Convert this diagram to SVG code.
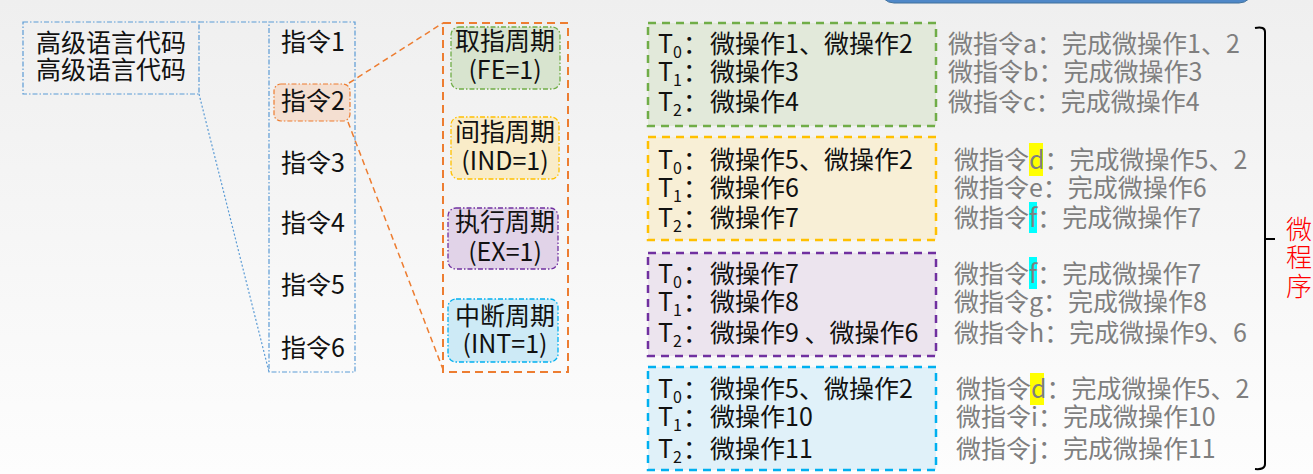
<svg xmlns="http://www.w3.org/2000/svg" width="1313" height="474" viewBox="0 0 1313 474">
<defs>
<linearGradient id="bg" x1="0" y1="0" x2="0" y2="1">
<stop offset="0" stop-color="#efefef"/>
<stop offset="1" stop-color="#fdfdfd"/>
</linearGradient>
<style>
text{font-family:"Noto Sans CJK SC","Noto Sans",sans-serif;font-size:25px;fill:#111}
.g{fill:#7f7f7f}
.sub{font-size:16px}
.c{text-anchor:middle}
.blu{fill:none;stroke:#5b9bd5;stroke-width:1.2;stroke-dasharray:5 2 1.5 2}
.dot{fill:none;stroke:#5b9bd5;stroke-width:1.2;stroke-dasharray:2 2}
.or{fill:none;stroke:#ed7d31;stroke-width:1.5;stroke-dasharray:6 4}
.cyc{stroke-width:1.3;stroke-dasharray:5 2 1.5 2}
.big{stroke-width:2.5;stroke-dasharray:8 6}
.red{fill:#ff0000;font-size:26px;font-weight:300}
</style>
</defs>
<rect width="1313" height="474" fill="url(#bg)"/>
<rect x="880" y="-30" width="373" height="33" rx="14" fill="#4f88c8" stroke="#41719c" stroke-width="1"/>

<g id="connectors">
<line x1="199" y1="22" x2="269" y2="22" class="blu"/>
<line x1="199" y1="94" x2="269" y2="372" class="dot"/>
<line x1="349" y1="83" x2="443" y2="23" class="or"/>
<line x1="348" y1="122" x2="444" y2="372" class="or"/>
</g>

<g id="highlevel">
<rect x="23" y="22" width="176" height="72" class="blu"/>
<text x="36" y="52">高级语言代码</text>
<text x="36" y="79">高级语言代码</text>
</g>

<g id="instructions">
<rect x="269" y="22" width="86" height="350" class="blu"/>
<rect x="274" y="84" width="76" height="37" rx="7" fill="#f4dfd1" stroke="#ed7d31" stroke-width="1.2" stroke-dasharray="5 2 1.5 2"/>
<text x="281" y="51">指令1</text>
<text x="281" y="110">指令2</text>
<text x="281" y="172">指令3</text>
<text x="281" y="232">指令4</text>
<text x="281" y="294">指令5</text>
<text x="281" y="357">指令6</text>
</g>

<g id="cycles">
<rect x="443" y="23" width="125" height="349" fill="none" stroke="#ed7d31" stroke-width="2" stroke-dasharray="8 5"/>
<g id="fe">
<rect x="451" y="27" width="109" height="62" rx="8" fill="#d8e4cf" stroke="#70ad47" class="cyc"/>
<text x="505" y="50" class="c">取指周期</text>
<text x="505" y="79" class="c">(FE=1)</text>
</g>
<g id="ind">
<rect x="451" y="117" width="108" height="62" rx="8" fill="#f9ecc8" stroke="#ffc000" class="cyc"/>
<text x="505" y="141" class="c">间指周期</text>
<text x="505" y="170" class="c">(IND=1)</text>
</g>
<g id="ex">
<rect x="448" y="208" width="110" height="61" rx="8" fill="#e1d3e8" stroke="#7030a0" class="cyc"/>
<text x="505" y="231" class="c">执行周期</text>
<text x="505" y="261" class="c">(EX=1)</text>
</g>
<g id="int">
<rect x="448" y="299" width="110" height="63" rx="8" fill="#cdeaf6" stroke="#00b0f0" class="cyc"/>
<text x="505" y="325" class="c">中断周期</text>
<text x="505" y="353" class="c">(INT=1)</text>
</g>
</g>

<g id="box-fe">
<rect x="648" y="23" width="288" height="103" fill="#e2e9da" stroke="#70ad47" class="big"/>
<text x="658" y="53">T<tspan class="sub" dy="5">0</tspan><tspan dy="-5" x="683">：</tspan></text>
<text x="710" y="53">微操作1、微操作2</text>
<text x="658" y="81">T<tspan class="sub" dy="5">1</tspan><tspan dy="-5" x="683">：</tspan></text>
<text x="710" y="81">微操作3</text>
<text x="658" y="111">T<tspan class="sub" dy="5">2</tspan><tspan dy="-5" x="683">：</tspan></text>
<text x="710" y="111">微操作4</text>
</g>

<g id="box-ind">
<rect x="648" y="137" width="288" height="103" fill="#f8efd6" stroke="#ffc000" class="big"/>
<text x="658" y="169">T<tspan class="sub" dy="5">0</tspan><tspan dy="-5" x="683">：</tspan></text>
<text x="710" y="169">微操作5、微操作2</text>
<text x="658" y="197">T<tspan class="sub" dy="5">1</tspan><tspan dy="-5" x="683">：</tspan></text>
<text x="710" y="197">微操作6</text>
<text x="658" y="227">T<tspan class="sub" dy="5">2</tspan><tspan dy="-5" x="683">：</tspan></text>
<text x="710" y="227">微操作7</text>
</g>

<g id="box-ex">
<rect x="648" y="253" width="288" height="103" fill="#ece4ee" stroke="#7030a0" class="big"/>
<text x="658" y="283">T<tspan class="sub" dy="5">0</tspan><tspan dy="-5" x="683">：</tspan></text>
<text x="710" y="283">微操作7</text>
<text x="658" y="311">T<tspan class="sub" dy="5">1</tspan><tspan dy="-5" x="683">：</tspan></text>
<text x="710" y="311">微操作8</text>
<text x="658" y="342">T<tspan class="sub" dy="5">2</tspan><tspan dy="-5" x="683">：</tspan></text>
<text x="710" y="342">微操作9 、微操作6</text>
</g>

<g id="box-int">
<rect x="648" y="367" width="288" height="103" fill="#e0f1f9" stroke="#00b0f0" class="big"/>
<text x="658" y="398">T<tspan class="sub" dy="5">0</tspan><tspan dy="-5" x="683">：</tspan></text>
<text x="710" y="398">微操作5、微操作2</text>
<text x="658" y="426">T<tspan class="sub" dy="5">1</tspan><tspan dy="-5" x="683">：</tspan></text>
<text x="710" y="426">微操作10</text>
<text x="658" y="458">T<tspan class="sub" dy="5">2</tspan><tspan dy="-5" x="683">：</tspan></text>
<text x="710" y="458">微操作11</text>
</g>

<g id="microinstructions">
<rect x="1029" y="143" width="14" height="33" fill="#ffff00"/>
<rect x="1029" y="202" width="8" height="31" fill="#00ffff"/>
<rect x="1029" y="257" width="8" height="32" fill="#00ffff"/>
<rect x="1030" y="373" width="14" height="32" fill="#ffff00"/>
<text class="g" x="948" y="53">微指令a：完成微操作1、2</text>
<text class="g" x="948" y="81">微指令b：完成微操作3</text>
<text class="g" x="948" y="111">微指令c：完成微操作4</text>
<text class="g" x="954" y="169">微指令d：完成微操作5、2</text>
<text class="g" x="954" y="197">微指令e：完成微操作6</text>
<text class="g" x="954" y="227">微指令f：完成微操作7</text>
<text class="g" x="954" y="283">微指令f：完成微操作7</text>
<text class="g" x="954" y="311">微指令g：完成微操作8</text>
<text class="g" x="954" y="342">微指令h：完成微操作9、6</text>
<text class="g" x="956" y="398">微指令d：完成微操作5、2</text>
<text class="g" x="956" y="426">微指令i：完成微操作10</text>
<text class="g" x="956" y="458">微指令j：完成微操作11</text>
</g>

<g id="brace">
<path d="M1255 28 Q1265 26 1265 32 L1265 239 L1275 239 M1265 239 L1265 464 Q1265 470 1255 469" fill="none" stroke="#000" stroke-width="2"/>
<text class="red c" x="1299" y="239">微</text>
<text class="red c" x="1299" y="267">程</text>
<text class="red c" x="1299" y="296">序</text>
</g>
</svg>
